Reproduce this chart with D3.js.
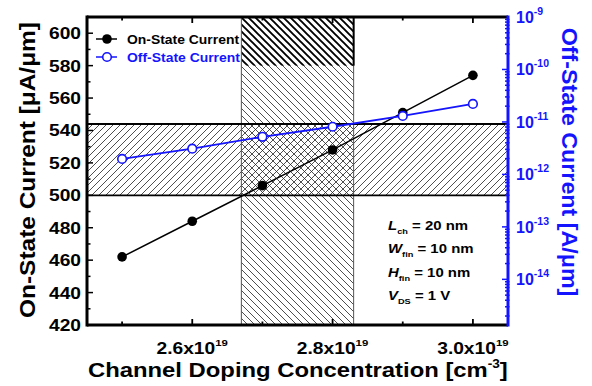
<!DOCTYPE html>
<html><head><meta charset="utf-8">
<script src="https://cdn.jsdelivr.net/npm/d3@7"></script>
<style>body{margin:0;background:#fff}svg{display:block}text{font-family:"Liberation Sans",Arial,sans-serif;font-weight:bold}</style>
</head><body><svg id="c" width="592" height="386"></svg>
<script>
// ---- data ----
const doping = [2.5, 2.6, 2.7, 2.8, 2.9, 3.0];           // x10^19 cm^-3
const onCurrent = [462, 484, 506, 528, 551, 574];        // uA/um
const offCurrent = [1.97e-12, 3.1e-12, 5.2e-12, 8.1e-12, 1.3e-11, 2.2e-11]; // A/um
const xMajorTicks = [2.6, 2.8, 3.0];
const xMinorTicks = [2.5, 2.7, 2.9];
const yMajorTicks = [420, 440, 460, 480, 500, 520, 540, 560, 580, 600];
const rightExponents = [-14, -13, -12, -11, -10, -9];
const bandOn = [500, 544];        // on-current target band
const bandDoping = [2.67, 2.83];  // doping window
const denseOn = [580, 610];
const legendLabels = ["On-State Current", "Off-State Current"];
const annotations = [["L", "ch", " = 20 nm"], ["W", "fin", " = 10 nm"], ["H", "fin", " = 10 nm"], ["V", "DS", " = 1 V"]];

const W = 592, H = 386;
const m = {l: 87, r: 508, t: 17, b: 325};
const BLUE = "#1414ff";
const svg = d3.select("#c");
svg.append("rect").attr("width", W).attr("height", H).attr("fill", "#fff");

const x = d3.scaleLinear().domain([2.45, 3.05]).range([m.l, m.r]);
const y = d3.scaleLinear().domain([420, 610]).range([m.b, m.t]);
const yR = d3.scaleLog().domain([Math.pow(10, -14.87), 1e-9]).range([m.b, m.t]);

// patterns
const defs = svg.append("defs");
function hatch(id, dir, sw, col) {
  const p = defs.append("pattern").attr("id", id).attr("patternUnits", "userSpaceOnUse")
    .attr("width", 7).attr("height", 7);
  const d = dir === "f" ? "M-1,1 l2,-2 M0,7 l7,-7 M6,8 l2,-2" : "M-1,6 l2,2 M0,0 l7,7 M6,-1 l2,2";
  p.append("path").attr("d", d).attr("stroke", col).attr("stroke-width", sw).attr("fill", "none");
}
hatch("hf", "f", 0.8, "#222");
hatch("hb", "b", 0.8, "#222");
hatch("hd", "b", 1.9, "#000");
defs.append("clipPath").attr("id", "clip").append("rect")
  .attr("x", m.l).attr("y", m.t).attr("width", m.r - m.l).attr("height", m.b - m.t);

const g = svg.append("g").attr("clip-path", "url(#clip)");
// horizontal band
g.append("rect").attr("x", m.l).attr("width", m.r - m.l)
  .attr("y", y(bandOn[1])).attr("height", y(bandOn[0]) - y(bandOn[1])).attr("fill", "url(#hf)");
// vertical band
g.append("rect").attr("x", x(bandDoping[0])).attr("width", x(bandDoping[1]) - x(bandDoping[0]))
  .attr("y", m.t).attr("height", m.b - m.t).attr("fill", "url(#hb)");
g.append("rect").attr("x", x(bandDoping[0])).attr("width", x(bandDoping[1]) - x(bandDoping[0]))
  .attr("y", y(denseOn[1])).attr("height", y(denseOn[0]) - y(denseOn[1])).attr("fill", "url(#hd)");
// borders
bandDoping.forEach(v => g.append("line").attr("x1", x(v)).attr("x2", x(v)).attr("y1", m.t).attr("y2", m.b)
  .attr("stroke", "#555").attr("stroke-width", 1));
g.append("line").attr("x1", x(bandDoping[1])).attr("x2", x(bandDoping[1])).attr("y1", m.t).attr("y2", y(denseOn[0]))
  .attr("stroke", "#000").attr("stroke-width", 2);
bandOn.forEach(v => g.append("line").attr("x1", m.l).attr("x2", m.r).attr("y1", y(v)).attr("y2", y(v))
  .attr("stroke", "#000").attr("stroke-width", 1.8));

// series
const onPts = doping.map((d, i) => [x(d), y(onCurrent[i])]);
const offPts = doping.map((d, i) => [x(d), yR(offCurrent[i])]);
svg.append("path").attr("d", d3.line()(onPts)).attr("fill", "none").attr("stroke", "#000").attr("stroke-width", 1.5);
svg.selectAll(".on").data(onPts).join("circle").attr("cx", d => d[0]).attr("cy", d => d[1]).attr("r", 4.8).attr("fill", "#000");
svg.append("path").attr("d", d3.line()(offPts)).attr("fill", "none").attr("stroke", BLUE).attr("stroke-width", 1.8);
svg.selectAll(".off").data(offPts).join("circle").attr("cx", d => d[0]).attr("cy", d => d[1]).attr("r", 4.3)
  .attr("fill", "#fff").attr("stroke", BLUE).attr("stroke-width", 1.6);

// axes
const ax = svg.append("g");
// left axis ticks
const yMinor = d3.range(430, 610, 20);
yMajorTicks.forEach(v => ax.append("line").attr("x1", m.l).attr("x2", m.l + 6).attr("y1", y(v)).attr("y2", y(v)).attr("stroke", "#000").attr("stroke-width", 1.5));
yMinor.forEach(v => ax.append("line").attr("x1", m.l).attr("x2", m.l + 3.5).attr("y1", y(v)).attr("y2", y(v)).attr("stroke", "#000").attr("stroke-width", 1.5));
// bottom/top ticks
xMajorTicks.forEach(v => {
  ax.append("line").attr("x1", x(v)).attr("x2", x(v)).attr("y1", m.b).attr("y2", m.b - 6).attr("stroke", "#000").attr("stroke-width", 1.8);
  ax.append("line").attr("x1", x(v)).attr("x2", x(v)).attr("y1", m.t).attr("y2", m.t + 6).attr("stroke", "#000").attr("stroke-width", 1.8);
});
xMinorTicks.forEach(v => {
  ax.append("line").attr("x1", x(v)).attr("x2", x(v)).attr("y1", m.b).attr("y2", m.b - 3.5).attr("stroke", "#000").attr("stroke-width", 1.8);
  ax.append("line").attr("x1", x(v)).attr("x2", x(v)).attr("y1", m.t).attr("y2", m.t + 3.5).attr("stroke", "#000").attr("stroke-width", 1.8);
});
// right log ticks
const [lo, hi] = yR.domain();
for (let e = -15; e <= -9; e++) {
  for (let k = 1; k <= 9; k++) {
    const v = k * Math.pow(10, e);
    if (v < lo || v > hi * 1.0001) continue;
    const len = k === 1 ? 6 : 3;
    ax.append("line").attr("x1", m.r - len).attr("x2", m.r + (k === 1 ? 0 : 1.5)).attr("y1", yR(v)).attr("y2", yR(v))
      .attr("stroke", BLUE).attr("stroke-width", 1.5);
  }
}
// axis lines
ax.append("line").attr("x1", m.l).attr("x2", m.r).attr("y1", m.b).attr("y2", m.b).attr("stroke", "#000").attr("stroke-width", 3);
ax.append("line").attr("x1", m.l).attr("x2", m.r).attr("y1", m.t).attr("y2", m.t).attr("stroke", "#000").attr("stroke-width", 3);
ax.append("line").attr("x1", m.l).attr("x2", m.l).attr("y1", m.t - 1.5).attr("y2", m.b + 1.5).attr("stroke", "#000").attr("stroke-width", 3);
ax.append("line").attr("x1", m.r).attr("x2", m.r).attr("y1", m.t - 1.5).attr("y2", m.b + 1.5).attr("stroke", BLUE).attr("stroke-width", 3);

// tick labels
const SX = 1.2;
yMajorTicks.forEach(v => {
  svg.append("text").attr("transform", `translate(81,${y(v) + 6}) scale(${SX},1)`)
    .attr("text-anchor", "end").attr("font-size", 16).attr("fill", "#000").text(v);
});
xMajorTicks.forEach(v => {
  const t = svg.append("text").attr("font-size", 16).attr("fill", "#000");
  t.append("tspan").text(v.toFixed(1) + "x10");
  t.append("tspan").attr("dy", -8).attr("font-size", 9.5).text("19");
  const w = t.node().getBBox().width * SX;
  t.attr("transform", `translate(${x(v) - w / 2},354) scale(${SX},1)`);
});
rightExponents.forEach(e => {
  const t = svg.append("text").attr("font-size", 16).attr("fill", BLUE)
    .attr("transform", `translate(516,${yR(Math.pow(10, e)) + 6})`);
  t.append("tspan").text("10");
  t.append("tspan").attr("dy", -8).attr("font-size", 10.5).text(String(e).replace("-", "-"));
});

// axis titles
function fit(t, len) {
  const w = t.node().getBBox().width;
  return len / w;
}
{
  const t = svg.append("text").attr("font-size", 21).attr("fill", "#000");
  t.append("tspan").text("Channel Doping Concentration [cm");
  t.append("tspan").attr("dy", -9).attr("font-size", 12).text("-3");
  t.append("tspan").attr("dy", 9).text("]");
  const s = fit(t, 420);
  t.attr("transform", `translate(88,377) scale(${s},1)`);
}
{
  const t = svg.append("text").attr("font-size", 19).attr("fill", "#000").attr("text-anchor", "middle")
    .text("On-State Current [μA/μm]");
  const s = fit(t, 296);
  t.attr("transform", `translate(35,170) scale(1.2,1) rotate(-90) scale(${s},1)`);
}
{
  const t = svg.append("text").attr("font-size", 19).attr("fill", BLUE).attr("text-anchor", "middle")
    .text("Off-State Current [A/μm]");
  const s = fit(t, 269);
  t.attr("transform", `translate(562,162) scale(1.2,1) rotate(90) scale(${s},1)`);
}

// legend
const legY = [39, 57];
legendLabels.forEach((lab, i) => {
  const col = i === 0 ? "#000" : BLUE;
  svg.append("line").attr("x1", 96).attr("x2", 117).attr("y1", legY[i]).attr("y2", legY[i]).attr("stroke", col).attr("stroke-width", 1.5);
  if (i === 0) svg.append("circle").attr("cx", 107).attr("cy", legY[i]).attr("r", 4.8).attr("fill", "#000");
  else svg.append("circle").attr("cx", 107).attr("cy", legY[i]).attr("r", 4.3).attr("fill", "#fff").attr("stroke", BLUE).attr("stroke-width", 1.6);
  const t = svg.append("text").attr("font-size", 12.5).attr("fill", col).text(lab);
  const s = fit(t, i === 0 ? 113 : 114);
  t.attr("transform", `translate(127,${legY[i] + 4.5}) scale(${s},1)`);
});

// annotation
const annY = [230, 253, 277, 300];
annotations.forEach((a, i) => {
  const t = svg.append("text").attr("font-size", 13).attr("fill", "#000");
  t.append("tspan").attr("font-style", "italic").text(a[0]);
  t.append("tspan").attr("font-size", 8).attr("dy", 4).text(a[1]);
  t.append("tspan").attr("dy", -4).text(a[2]);
  t.attr("transform", `translate(388,${annY[i]}) scale(1.15,1)`);
});
</script></body></html>
